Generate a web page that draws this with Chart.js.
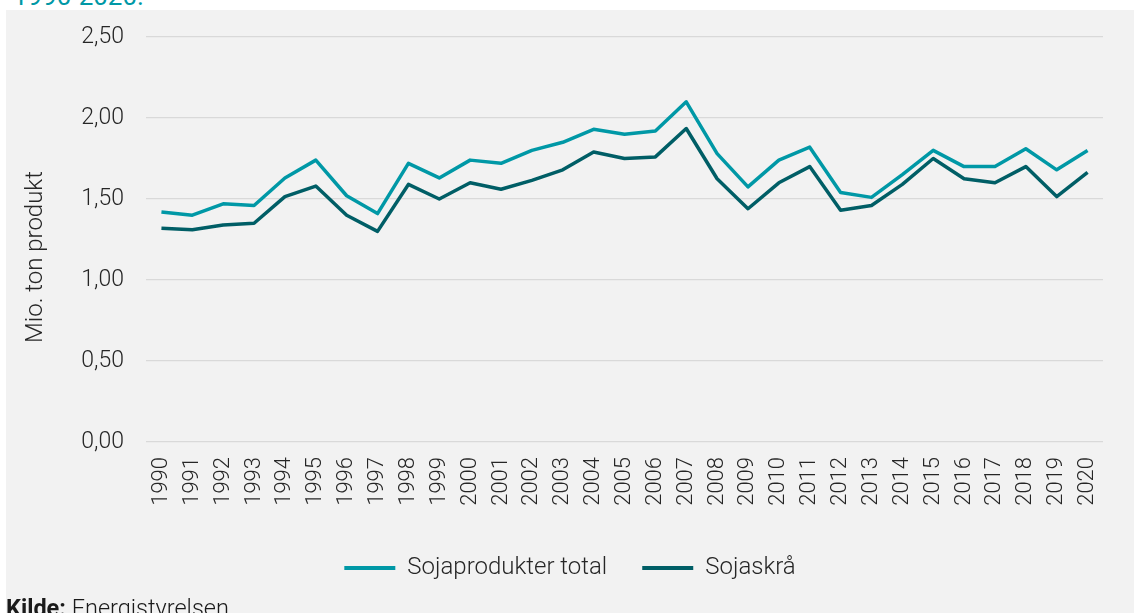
<!DOCTYPE html>
<html lang="da">
<head>
<meta charset="utf-8">
<title>Sojaprodukter 1990-2020</title>
<script src="https://cdn.jsdelivr.net/npm/chart.js@4/dist/chart.umd.min.js"></script>
<style>
    html, body { margin: 0; padding: 0; background: #ffffff; }
    body { width: 1134px; height: 613px; position: relative; overflow: hidden; font-family: Roboto, "Noto Sans", sans-serif; }
    .title { position: absolute; left: 13px; top: -49px; font-size: 26px; color: #0098a6; line-height: 30px; }
    .panel { position: absolute; left: 6px; top: 10px; width: 1128px; height: 603px; background: #f2f2f2; }
    .source { position: absolute; left: 6px; top: 597px; font-size: 23.5px; line-height: 23px; color: #1a1a1a; font-weight: 300; white-space: nowrap; }
    .source b { font-weight: 700; }
</style>
</head>
<body>
<div class="title">Figur: Forbrug af sojaprodukter i Danmark,<br>1990-2020.</div>
<div class="panel">
    <canvas id="sojaChart" width="1128" height="603"></canvas>
</div>
<div class="source"><b>Kilde:</b> Energistyrelsen</div>

<script>
// ===== Data =====
const years = ['1990','1991','1992','1993','1994','1995','1996','1997','1998','1999',
               '2000','2001','2002','2003','2004','2005','2006','2007','2008','2009',
               '2010','2011','2012','2013','2014','2015','2016','2017','2018','2019','2020'];

const sojaprodukterTotal = [1.42, 1.40, 1.47, 1.46, 1.63, 1.74, 1.52, 1.41, 1.72, 1.63,
                            1.74, 1.72, 1.80, 1.85, 1.93, 1.90, 1.92, 2.10, 1.78, 1.575,
                            1.74, 1.82, 1.54, 1.51, 1.65, 1.80, 1.70, 1.70, 1.81, 1.68, 1.80];

const sojaskraa = [1.32, 1.31, 1.34, 1.35, 1.515, 1.58, 1.40, 1.30, 1.59, 1.50,
                   1.60, 1.56, 1.615, 1.68, 1.79, 1.75, 1.76, 1.935, 1.625, 1.44,
                   1.60, 1.70, 1.43, 1.46, 1.59, 1.75, 1.625, 1.60, 1.70, 1.515, 1.665];

const yTicks = [0, 0.5, 1, 1.5, 2, 2.5];

// ===== Styles =====
const tealColor = '#0098a6';
const darkColor = '#005e66';
const textColor = '#262626';
const gridColor = '#d9d9d9';

Chart.defaults.font.family = 'Roboto, "Noto Sans", sans-serif';
Chart.defaults.font.weight = 300;
Chart.defaults.color = textColor;

// ===== Chart =====
const sojaChart = new Chart(document.getElementById('sojaChart'), {
    type: 'line',
    data: {
        labels: years,
        datasets: [
            {
                label: 'Sojaprodukter total',
                data: sojaprodukterTotal,
                borderColor: tealColor,
                backgroundColor: tealColor,
                borderWidth: 3.5,
                pointRadius: 0,
                tension: 0,
                fill: false,
                borderJoinStyle: 'round'
            },
            {
                label: 'Sojaskrå',
                data: sojaskraa,
                borderColor: darkColor,
                backgroundColor: darkColor,
                borderWidth: 3.5,
                pointRadius: 0,
                tension: 0,
                fill: false,
                borderJoinStyle: 'round'
            }
        ]
    },
    options: {
        responsive: false,
        animation: false,
        layout: { padding: { top: 27, right: 0, bottom: 23, left: 0 } },
        plugins: {
            tooltip: { enabled: false },
            legend: {
                position: 'bottom',
                labels: {
                    boxWidth: 51,
                    boxHeight: 4,
                    padding: 35,
                    color: textColor,
                    font: { size: 24, weight: 300 },
                    generateLabels: function(chart) {
                        const items = Chart.defaults.plugins.legend.labels.generateLabels(chart);
                        items.forEach(item => { item.lineWidth = 0; });
                        return items;
                    }
                }
            }
        },
        scales: {
            x: {
                offset: true,
                grid: { display: false, drawTicks: false },
                border: { display: false },
                ticks: {
                    minRotation: 90,
                    maxRotation: 90,
                    autoSkip: false,
                    padding: 15,
                    color: textColor,
                    font: { size: 22, weight: 300 }
                },
                afterFit: function(scale) { scale.height = 79; }
            },
            y: {
                min: 0,
                max: 2.5,
                grid: { color: gridColor, lineWidth: 1.3, drawTicks: false },
                border: { display: false },
                afterBuildTicks: function(scale) {
                    scale.ticks = yTicks.map(v => ({ value: v }));
                },
                ticks: {
                    padding: 22,
                    color: textColor,
                    font: { size: 23, weight: 300 },
                    callback: function(value) { return value.toFixed(2).replace('.', ','); }
                },
                title: {
                    display: true,
                    text: 'Mio. ton produkt      ',
                    color: textColor,
                    font: { size: 24, weight: 300 },
                    padding: { top: 16, bottom: 0 }
                },
                afterFit: function(scale) {
                    scale.width = 140;
                    scale.paddingTop = 0;
                    scale.paddingBottom = 0;
                }
            },
            // empty right axis, only keeps room on the right of the plot
            yRight: {
                position: 'right',
                display: true,
                grid: { display: false, drawTicks: false },
                border: { display: false },
                ticks: { display: false },
                afterFit: function(scale) {
                    scale.width = 31;
                    scale.paddingTop = 0;
                    scale.paddingBottom = 0;
                }
            }
        }
    }
});
</script>
</body>
</html>
